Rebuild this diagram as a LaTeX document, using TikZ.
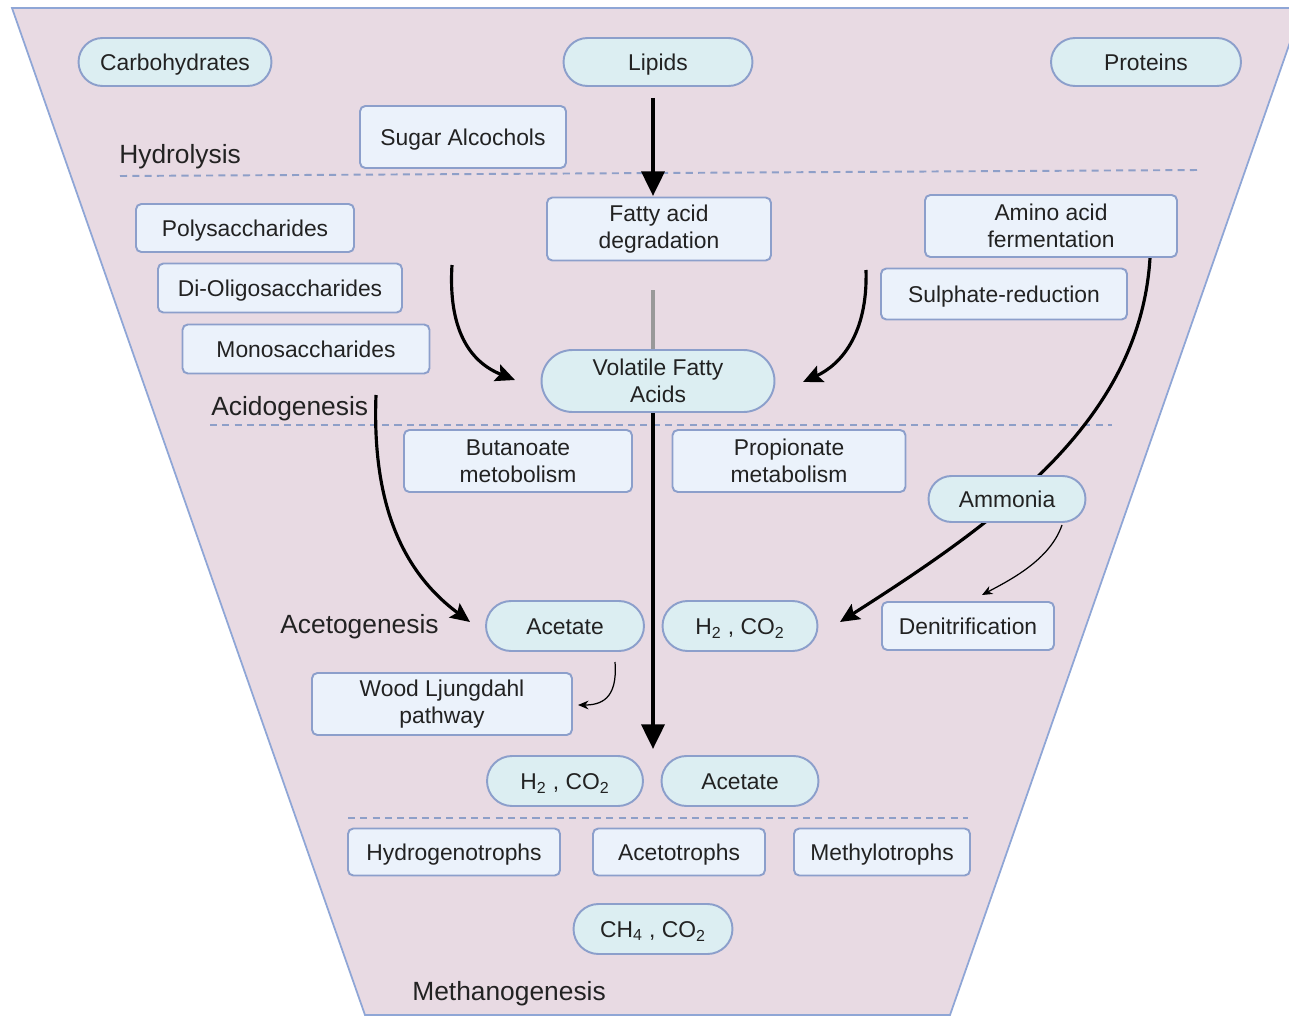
\documentclass[tikz,border=0pt]{standalone}
\usepackage{fontspec}
\setmainfont{Liberation Sans}
\usetikzlibrary{arrows.meta,shapes.misc}
\definecolor{funnelfill}{HTML}{E8DAE3}
\definecolor{funnelline}{HTML}{8FA6D6}
\definecolor{pillfill}{HTML}{DCEEF2}
\definecolor{boxfill}{HTML}{EBF2FB}
\definecolor{nodeline}{HTML}{8C9FCB}
\definecolor{txt}{HTML}{222222}
\definecolor{sepline}{HTML}{8E9FC8}
\tikzset{
  base/.style={draw=nodeline, line width=1.1pt, text=txt, font=\fontsize{13}{15.5}\selectfont, align=center, inner sep=0pt},
  oneline/.style={text height=9.3pt, text depth=0pt},
  pill/.style={base, rounded rectangle, fill=pillfill},
  box/.style={base, rectangle, rounded corners=3pt, fill=boxfill},
  stage/.style={text=txt, font=\fontsize{15}{18}\selectfont, anchor=west, inner sep=0pt, text height=10.7pt, text depth=0pt},
  sepdash/.style={draw=sepline, line width=1.1pt, dash pattern=on 4pt off 3pt},
  bigarrow/.style={line width=2.3pt, -{Triangle[length=14pt,width=13pt]}},
  curvearrow/.style={line width=1.8pt, -{Stealth[length=11pt,width=10pt,inset=2pt]}},
  thinarrow/.style={line width=0.7pt, -{Stealth[length=6pt,width=5pt]}},
}
\begin{document}
\begin{tikzpicture}[x=0.02cm,y=-0.02cm]
\useasboundingbox (0,0) rectangle (1289,1017);
% funnel
\draw[draw=funnelline, fill=funnelfill, line width=1pt] (12,8) -- (1302,8) -- (950,1015) -- (365,1015) -- cycle;
% separators
\draw[sepdash] (120,176) -- (1200,170);
\draw[sepdash] (210,425) -- (1112,425);
\draw[sepdash] (348,818) -- (968,818);
% stage labels
\node[stage] (hydrolysis) at (119,154) {Hydrolysis};
\node[stage] (acidogenesis) at (211,406) {Acidogenesis};
\node[stage] (acetogenesis) at (280,624) {Acetogenesis};
\node[stage] (methanogenesis) at (412,991) {Methanogenesis};
% coordinates for free ends
\coordinate (polystart) at (452,265);
\coordinate (sulphstart) at (866,270);
\coordinate (aminostart) at (1150,258);
\coordinate (acidostart) at (376,395);
\coordinate (ammstart) at (1062,525);
\coordinate (acetstart) at (615,662);
\coordinate (mainend) at (653,749);
\coordinate (mainstart) at (653,412);
\coordinate (lipstart) at (653,98);
\coordinate (lipend) at (653,196);
\coordinate (fadstart) at (653,290);
\coordinate (fadend) at (653,350);
% big curved arrows (behind nodes)
\draw[curvearrow] (aminostart) .. controls (1140,420) and (1000,520) .. (840,622);
\draw[curvearrow] (polystart) .. controls (448,330) and (470,362) .. (515,380);
\draw[curvearrow] (sulphstart) .. controls (868,335) and (840,365) .. (803,382);
\draw[curvearrow] (acidostart) .. controls (372,500) and (400,570) .. (470,622);
\draw[bigarrow] (lipstart) -- (lipend);
\draw[line width=2.3pt, draw=black!40] (fadstart) -- (fadend);
\draw[bigarrow] (mainstart) -- (mainend);
% nodes
\node[pill, oneline, minimum width=3.86cm, minimum height=0.96cm] (carb) at (175,62) {Carbohydrates};
\node[pill, oneline, minimum width=3.78cm, minimum height=0.96cm] (lipids) at (658,62) {Lipids};
\node[pill, oneline, minimum width=3.8cm, minimum height=0.96cm] (proteins) at (1146,62) {Proteins};
\node[box, oneline, minimum width=4.12cm, minimum height=1.24cm] (sugar) at (463,137) {Sugar Alcochols};
\node[box, minimum width=4.48cm, minimum height=1.26cm] (fad) at (659,229) {Fatty acid\\degradation};
\node[box, minimum width=5.04cm, minimum height=1.24cm] (amino) at (1051,226) {Amino acid\\fermentation};
\node[box, oneline, minimum width=4.36cm, minimum height=0.96cm] (poly) at (245,228) {Polysaccharides};
\node[box, oneline, minimum width=4.88cm, minimum height=0.98cm] (dioligo) at (280,288) {Di-Oligosaccharides};
\node[box, oneline, minimum width=4.94cm, minimum height=0.98cm] (mono) at (306,349) {Monosaccharides};
\node[box, oneline, minimum width=4.92cm, minimum height=1.02cm] (sulph) at (1004,294) {Sulphate-reduction};
\node[pill, minimum width=4.66cm, minimum height=1.24cm] (vfa) at (658,381) {Volatile Fatty\\Acids};
\node[box, minimum width=4.56cm, minimum height=1.24cm] (buta) at (518,461) {Butanoate\\metobolism};
\node[box, minimum width=4.66cm, minimum height=1.24cm] (prop) at (789,461) {Propionate\\metabolism};
\node[pill, oneline, minimum width=3.14cm, minimum height=0.92cm] (ammonia) at (1007,499) {Ammonia};
\node[pill, oneline, minimum width=3.16cm, minimum height=1.0cm] (acetate1) at (565,626) {Acetate};
\node[pill, oneline, minimum width=3.1cm, minimum height=1.0cm] (h2co2a) at (740,626) {H\textsubscript{2} , CO\textsubscript{2}};
\node[box, oneline, minimum width=3.44cm, minimum height=0.96cm] (denit) at (968,626) {Denitrification};
\node[box, minimum width=5.2cm, minimum height=1.24cm] (wood) at (442,704) {Wood Ljungdahl\\pathway};
\node[pill, oneline, minimum width=3.12cm, minimum height=1.0cm] (h2co2b) at (565,781) {H\textsubscript{2} , CO\textsubscript{2}};
\node[pill, oneline, minimum width=3.14cm, minimum height=1.0cm] (acetate2) at (740,781) {Acetate};
\node[box, oneline, minimum width=4.24cm, minimum height=0.94cm] (hydro) at (454,852) {Hydrogenotrophs};
\node[box, oneline, minimum width=3.44cm, minimum height=0.94cm] (aceto) at (679,852) {Acetotrophs};
\node[box, oneline, minimum width=3.52cm, minimum height=0.94cm] (methylo) at (882,852) {Methylotrophs};
\node[pill, oneline, minimum width=3.18cm, minimum height=1.0cm] (ch4) at (653,929) {CH\textsubscript{4} , CO\textsubscript{2}};
% thin arrows
\draw[thinarrow] (ammstart) .. controls (1050,560) and (1010,580) .. (982,595);
\draw[thinarrow] (acetstart) .. controls (618,700) and (600,705) .. (578,705);
\end{tikzpicture}
\end{document}
